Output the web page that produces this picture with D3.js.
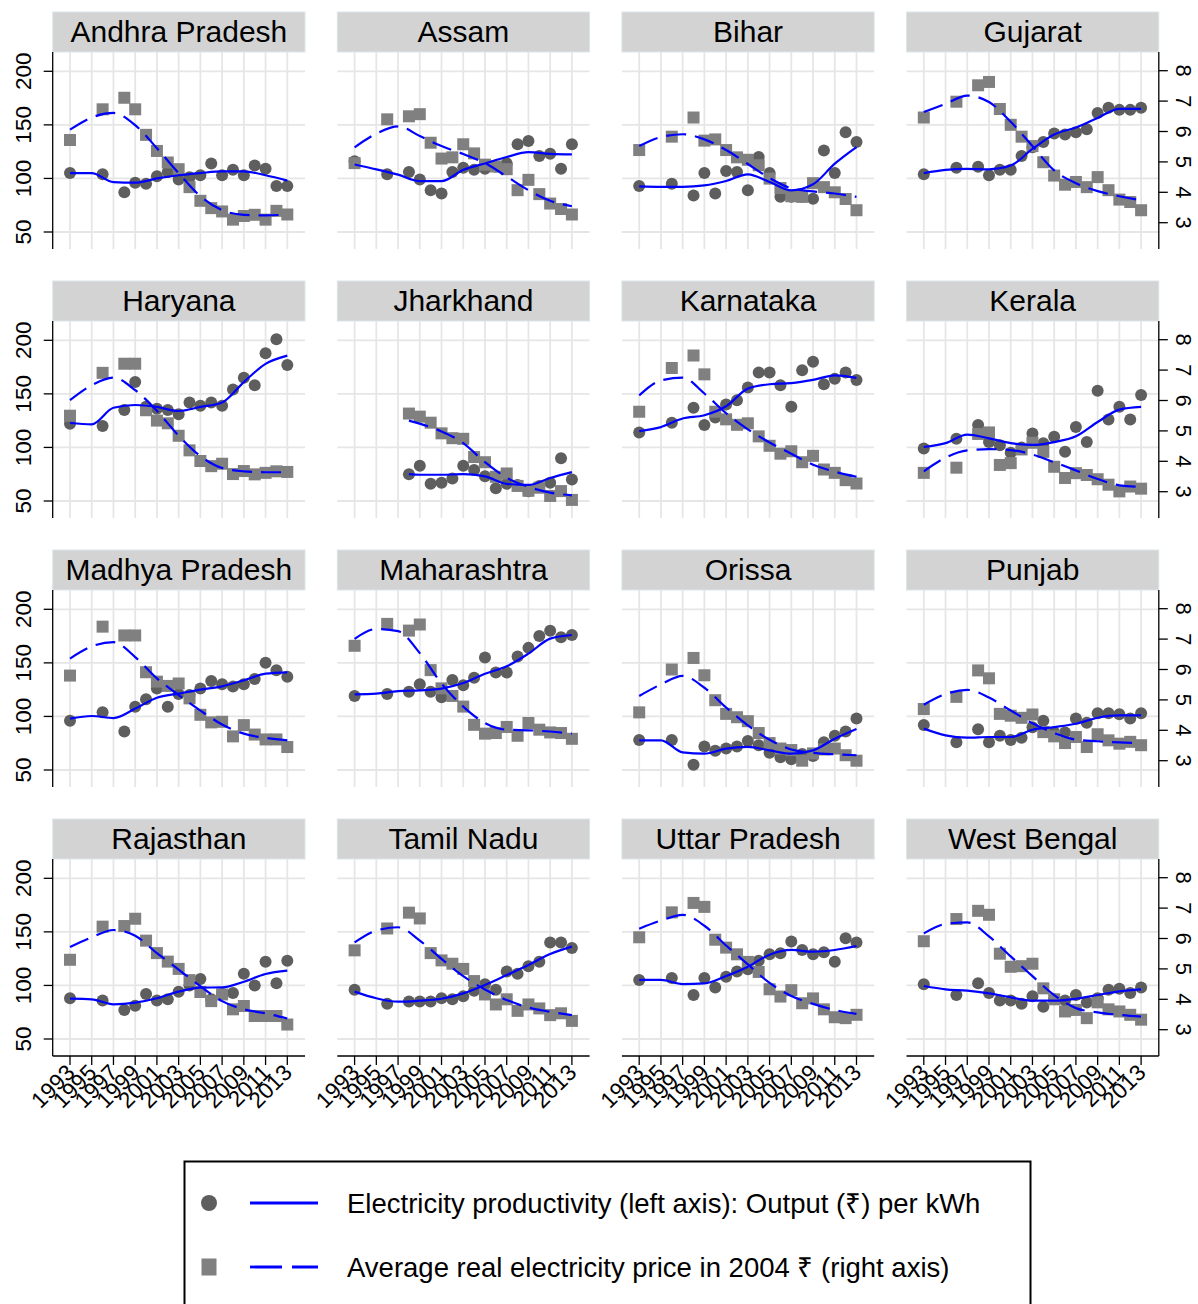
<!DOCTYPE html>
<html><head><meta charset="utf-8">
<script src="https://cdn.jsdelivr.net/npm/d3@7"></script>
<style>
body{margin:0;background:#fff}
svg{display:block}
text{font-family:"Liberation Sans",Arial,Helvetica,sans-serif;fill:#000}
</style>
</head><body>
<svg id="chart" width="1198" height="1304"></svg>
<script>
// ---------------- data ----------------
const states = ["Andhra Pradesh","Assam","Bihar","Gujarat","Haryana","Jharkhand","Karnataka","Kerala",
  "Madhya Pradesh","Maharashtra","Orissa","Punjab","Rajasthan","Tamil Nadu","Uttar Pradesh","West Bengal"];

const dataYears = [1993,1996,1998,1999,2000,2001,2002,2003,2004,2005,2006,2007,2008,2009,2010,2011,2012,2013];

// Electricity productivity (left axis), one row per state, aligned with dataYears
const productivity = [
  [105,104,87,96,95,102,106,99,101,103,114,103,108,103,112,109,93,93],
  [116,104,106,99,89,86,106,110,108,109,111,114,132,135,121,123,109,132],
  [93,95,84,105,86,107,106,89,120,105,83,83,83,81,126,105,143,134],
  [104,110,111,103,108,108,121,129,134,142,141,143,146,161,166,164,164,166],
  [122,120,135,161,138,136,135,131,142,139,142,139,154,165,158,188,201,177],
  [null,null,75,83,66,67,71,83,79,73,62,66,65,59,64,67,90,70],
  [114,123,137,121,128,140,144,156,170,170,158,138,172,180,159,164,170,163],
  [99,108,121,105,102,95,100,113,104,110,96,119,105,153,126,138,126,149],
  [96,104,86,109,116,126,109,121,120,126,133,130,128,130,135,150,143,137],
  [119,121,123,130,123,118,134,129,136,155,141,141,156,164,175,180,174,176],
  [78,78,55,72,68,70,72,77,73,66,62,60,65,63,76,82,86,98],
  [92,76,88,76,82,78,80,90,96,85,85,98,94,103,103,102,98,103],
  [88,86,77,81,92,86,87,94,100,106,87,92,93,111,100,122,102,123],
  [96,83,85,85,85,88,87,90,95,101,96,113,111,118,122,140,140,135],
  [105,107,91,107,98,108,113,115,123,129,130,141,133,129,131,122,144,140],
  [101,91,102,93,86,86,83,90,80,87,86,91,84,88,96,97,93,98]
];

// Average real electricity price in 2004 Rs (right axis), aligned with dataYears
const price = [
  [5.72,6.73,7.11,6.73,5.89,5.36,4.98,4.76,4.17,3.72,3.48,3.37,3.10,3.22,3.26,3.10,3.39,3.27],
  [4.96,6.40,6.50,6.57,5.63,5.11,5.15,5.58,5.28,4.91,4.85,4.76,4.07,4.41,3.94,3.63,3.45,3.27],
  [5.39,5.83,6.46,5.70,5.74,5.39,5.15,5.07,4.89,4.45,4.14,3.87,3.85,4.30,4.17,4.00,3.78,3.41],
  [6.46,6.98,7.52,7.63,6.74,6.22,5.83,5.52,4.99,4.55,4.25,4.34,4.17,4.50,4.07,3.76,3.68,3.41],
  [5.50,6.91,7.21,7.21,5.68,5.34,5.25,4.84,4.36,4.01,3.84,3.92,3.58,3.68,3.57,3.62,3.67,3.65],
  [null,null,5.57,5.47,5.27,4.92,4.76,4.74,4.14,3.97,3.49,3.60,3.19,3.03,3.13,2.86,3.02,2.73],
  [5.63,7.07,7.48,6.86,5.63,5.38,5.20,5.25,4.82,4.51,4.25,4.33,3.97,4.18,3.73,3.62,3.38,3.27],
  [3.62,3.79,4.90,4.95,3.88,3.94,4.39,4.61,4.31,3.82,3.45,3.61,3.55,3.41,3.23,3.01,3.17,3.10],
  [5.80,7.41,7.12,7.12,5.91,5.60,5.46,5.54,5.05,4.51,4.26,4.28,3.80,4.17,3.86,3.70,3.70,3.45],
  [6.78,7.50,7.28,7.48,5.98,5.38,5.13,4.78,4.18,3.89,3.91,4.11,3.82,4.24,4.02,3.93,3.91,3.72],
  [4.59,6.00,6.38,5.81,4.99,4.54,4.43,4.30,3.91,3.58,3.40,3.35,3.00,3.24,3.37,3.40,3.18,3.00],
  [4.70,5.10,5.97,5.71,4.54,4.48,4.41,4.52,3.94,3.80,3.58,3.78,3.45,3.87,3.67,3.56,3.62,3.51],
  [5.30,6.39,6.41,6.65,5.93,5.52,5.24,5.00,4.63,4.24,3.94,4.16,3.67,3.78,3.45,3.45,3.45,3.17],
  [5.61,6.33,6.85,6.66,5.52,5.28,5.17,5.00,4.60,4.16,3.83,4.00,3.62,3.83,3.70,3.48,3.54,3.29],
  [6.04,6.86,7.17,7.04,5.96,5.70,5.48,5.23,4.90,4.33,4.09,4.30,3.87,4.03,3.67,3.41,3.38,3.49],
  [5.91,6.64,6.91,6.78,5.50,5.07,5.09,5.17,4.36,4.00,3.60,3.65,3.38,3.90,3.67,3.60,3.49,3.33]
];

// smoothed curves
const smoothYears = [1993,1995,1997,1999,2001,2003,2005,2007,2009,2011,2013];
const smoothYearsJharkhand = [1998,1999,2001,2003,2005,2007,2009,2011,2013];

const productivitySmooth = [
  [105,105,96.5,96,100,103,105,106.5,106.5,103,98],
  [113,108.5,103.5,97.5,97.5,108,114,120,124.5,123,122.5],
  [92.6,92.2,92.2,93.5,97.6,103.8,96.7,88.9,94.5,113.8,129.3],
  [105,108,109,108.5,112,127.5,141,147.5,156.5,165,165],
  [122.8,121.6,137,139.6,137.8,134,137.8,142,161,178,185.7],
  [75,74.5,74.5,75,73,66,65,71.5,77],
  [115.3,119,127,130,138.4,154.9,159,160,163,167.3,165],
  [100.4,104,112,108.5,104,102.3,105,110.4,123.7,135.3,137.8],
  [97.9,100.4,98.5,107.3,117.5,121.3,125,128.1,133.7,139.9,141.2],
  [120.6,121.3,123.7,124.4,126,131.2,139.9,146.8,158.6,172.6,176],
  [77.7,77.7,66.5,65.2,69.9,71.5,68.3,65.2,68.3,79.2,88.3],
  [88.6,82.3,80.2,80.8,80.8,87.6,90.1,93.2,98.8,101,101],
  [87.6,87,82.4,83.9,88,94.2,97.9,98.2,103.5,110.7,113.8],
  [94.2,88,84.8,85.8,87.6,92.6,100.4,109.7,119.1,129.3,136.2],
  [105.1,105.1,101.3,101.9,108.8,117.5,128.7,133.1,131.5,133.1,136.8],
  [99.5,96.4,95.1,92.6,88.9,85.8,85.8,87.6,91.1,94.5,96.4]
];

const priceSmooth = [
  [6.06,6.46,6.61,6.21,5.45,4.63,3.87,3.41,3.26,3.24,3.27],
  [5.48,5.93,6.17,5.85,5.52,5.26,4.96,4.52,4.07,3.72,3.54],
  [5.52,5.82,5.91,5.74,5.39,4.93,4.47,4.13,4.03,3.96,3.85],
  [6.64,6.91,7.18,6.97,6.32,5.52,4.72,4.30,4.04,3.87,3.74],
  [6.01,6.50,6.75,6.34,5.66,4.84,4.17,3.78,3.67,3.64,3.64],
  [5.34,5.24,4.98,4.60,3.97,3.46,3.16,2.97,2.88],
  [6.17,6.66,6.75,6.23,5.58,5.05,4.62,4.25,3.89,3.66,3.49],
  [3.67,4.12,4.36,4.40,4.37,4.22,3.97,3.70,3.42,3.21,3.16],
  [6.36,6.76,6.90,6.41,5.71,5.16,4.65,4.19,3.89,3.75,3.67],
  [7.01,7.33,7.26,6.54,5.54,4.78,4.24,4.02,4.00,3.96,3.89],
  [5.13,5.51,5.79,5.40,4.75,4.16,3.69,3.37,3.26,3.21,3.18],
  [4.84,5.19,5.33,5.08,4.65,4.23,3.91,3.69,3.64,3.60,3.58],
  [5.72,6.04,6.28,6.09,5.52,4.98,4.43,3.94,3.67,3.54,3.37],
  [5.87,6.26,6.37,5.93,5.33,4.76,4.32,3.98,3.73,3.59,3.48],
  [6.32,6.59,6.78,6.42,5.77,5.15,4.54,4.11,3.85,3.65,3.52],
  [6.17,6.48,6.53,6.07,5.41,4.76,4.14,3.71,3.57,3.49,3.43]
];

const leftTicks = [50,100,150,200];
const rightTicks = [3,4,5,6,7,8];
const xTicks = [1993,1995,1997,1999,2001,2003,2005,2007,2009,2011,2013];
const legendLabels = [
  "Electricity productivity (left axis): Output (\u20B9) per kWh",
  "Average real electricity price in 2004 \u20B9 (right axis)"
];

// ---------------- layout ----------------
const W = 1198, H = 1304;
const colStep = 284.6, rowStep = 269;
const plotLeft0 = 52.7, plotW = 252.3;
const stripTop0 = 12, stripH = 40, plotBottomOff = 237;
const BLUE = "#0000ff", DOT = "#5e5e5e", SQ = "#808080", GRID = "#e6e6e6";

const svg = d3.select("#chart");
svg.append("rect").attr("width", W).attr("height", H).attr("fill", "#fff");

const sq = 12;

states.forEach((name, i) => {
  const c = i % 4, r = Math.floor(i / 4);
  const L = plotLeft0 + c * colStep, R = L + plotW;
  const T = stripTop0 + r * rowStep;
  const pTop = T + stripH, pBot = T + plotBottomOff;

  const x = d3.scaleLinear().domain([1993, 2013]).range([L + 17.3, L + 234.6]);
  const yL = d3.scaleLinear().domain([50, 200]).range([T + 220, T + 59.3]);
  const yR = d3.scaleLinear().domain([3, 8]).range([T + 210.7, T + 58.7]);

  const g = svg.append("g");

  // grid
  g.selectAll(".vg").data(xTicks).join("line")
    .attr("x1", d => x(d)).attr("x2", d => x(d))
    .attr("y1", pTop).attr("y2", pBot)
    .attr("stroke", GRID).attr("stroke-width", 1.8);
  g.selectAll(".hg").data(leftTicks).join("line")
    .attr("x1", L).attr("x2", R)
    .attr("y1", d => yL(d)).attr("y2", d => yL(d))
    .attr("stroke", GRID).attr("stroke-width", 1.8);

  // strip
  g.append("rect").attr("x", L).attr("y", T).attr("width", plotW).attr("height", stripH)
    .attr("fill", "#d3d3d3").attr("stroke", "#dbe6e9").attr("stroke-width", 1);
  g.append("text").attr("x", (L + R) / 2).attr("y", T + 30)
    .attr("text-anchor", "middle").attr("font-size", 30).text(name);

  // markers
  const pts = dataYears.map((yr, k) => ({yr, v: productivity[i][k], p: price[i][k]}));
  g.selectAll(".dot").data(pts.filter(d => d.v != null)).join("circle")
    .attr("cx", d => x(d.yr)).attr("cy", d => yL(d.v)).attr("r", 6).attr("fill", DOT);
  g.selectAll(".sq").data(pts.filter(d => d.p != null)).join("rect")
    .attr("x", d => x(d.yr) - sq / 2).attr("y", d => yR(d.p) - sq / 2)
    .attr("width", sq).attr("height", sq).attr("fill", SQ);

  // smooth lines
  const sy = name === "Jharkhand" ? smoothYearsJharkhand : smoothYears;
  const lineL = d3.line().x((d, k) => x(sy[k])).y(d => yL(d)).curve(d3.curveMonotoneX);
  const lineR = d3.line().x((d, k) => x(sy[k])).y(d => yR(d)).curve(d3.curveMonotoneX);
  g.append("path").attr("d", lineL(productivitySmooth[i])).attr("fill", "none")
    .attr("stroke", BLUE).attr("stroke-width", 2.2);
  g.append("path").attr("d", lineR(priceSmooth[i])).attr("fill", "none")
    .attr("stroke", BLUE).attr("stroke-width", 2.2).attr("stroke-dasharray", "20,9");

  // left axis
  if (c === 0) {
    const ax = g.append("g").attr("transform", `translate(${L},0)`);
    ax.append("line").attr("x1", 0).attr("x2", 0).attr("y1", pTop).attr("y2", pBot)
      .attr("stroke", "#000").attr("stroke-width", 1.3);
    ax.selectAll(".t").data(leftTicks).join("line")
      .attr("x1", 0).attr("x2", -9).attr("y1", d => yL(d)).attr("y2", d => yL(d))
      .attr("stroke", "#000").attr("stroke-width", 1.3);
    ax.selectAll(".l").data(leftTicks).join("text")
      .attr("transform", d => `translate(${23 - L},${yL(d)}) rotate(-90)`)
      .attr("text-anchor", "middle").attr("dy", "0.35em").attr("font-size", 22.5)
      .text(d => d);
  }
  // right axis
  if (c === 3) {
    const ax = g.append("g").attr("transform", `translate(${R},0)`);
    ax.append("line").attr("x1", 0).attr("x2", 0).attr("y1", pTop).attr("y2", pBot)
      .attr("stroke", "#000").attr("stroke-width", 1.3);
    ax.selectAll(".t").data(rightTicks).join("line")
      .attr("x1", 0).attr("x2", 9).attr("y1", d => yR(d)).attr("y2", d => yR(d))
      .attr("stroke", "#000").attr("stroke-width", 1.3);
    ax.selectAll(".l").data(rightTicks).join("text")
      .attr("transform", d => `translate(${1184 - R},${yR(d)}) rotate(90)`)
      .attr("text-anchor", "middle").attr("dy", "0.35em").attr("font-size", 22)
      .text(d => d);
  }
  // bottom axis
  if (r === 3) {
    const ax = g.append("g").attr("transform", `translate(0,${pBot})`);
    ax.append("line").attr("x1", L).attr("x2", R).attr("y1", 0).attr("y2", 0)
      .attr("stroke", "#000").attr("stroke-width", 1.3);
    ax.selectAll(".t").data(xTicks).join("line")
      .attr("x1", d => x(d)).attr("x2", d => x(d)).attr("y1", 0).attr("y2", 9)
      .attr("stroke", "#000").attr("stroke-width", 1.3);
    ax.selectAll(".l").data(xTicks).join("text")
      .attr("transform", d => `translate(${x(d) + 6},${18}) rotate(-45)`)
      .attr("text-anchor", "end").attr("font-size", 22.5)
      .text(d => d);
  }
});

// ---------------- legend ----------------
const lg = svg.append("g");
lg.append("rect").attr("x", 184.5).attr("y", 1161.5).attr("width", 846).attr("height", 170)
  .attr("fill", "#fff").attr("stroke", "#000").attr("stroke-width", 2);
const rowsY = [1203, 1267];
lg.append("circle").attr("cx", 209).attr("cy", rowsY[0]).attr("r", 8).attr("fill", DOT);
lg.append("rect").attr("x", 201.5).attr("y", rowsY[1] - 8.5).attr("width", 15).attr("height", 17).attr("fill", SQ);
lg.append("line").attr("x1", 250).attr("x2", 318).attr("y1", rowsY[0]).attr("y2", rowsY[0])
  .attr("stroke", BLUE).attr("stroke-width", 2.8);
lg.append("line").attr("x1", 250).attr("x2", 318).attr("y1", rowsY[1]).attr("y2", rowsY[1])
  .attr("stroke", BLUE).attr("stroke-width", 2.8).attr("stroke-dasharray", "32,10");
lg.selectAll(".lt").data(legendLabels).join("text")
  .attr("x", 347).attr("y", (d, k) => rowsY[k] + 10)
  .attr("font-size", 27.5).text(d => d);
</script>
</body></html>
